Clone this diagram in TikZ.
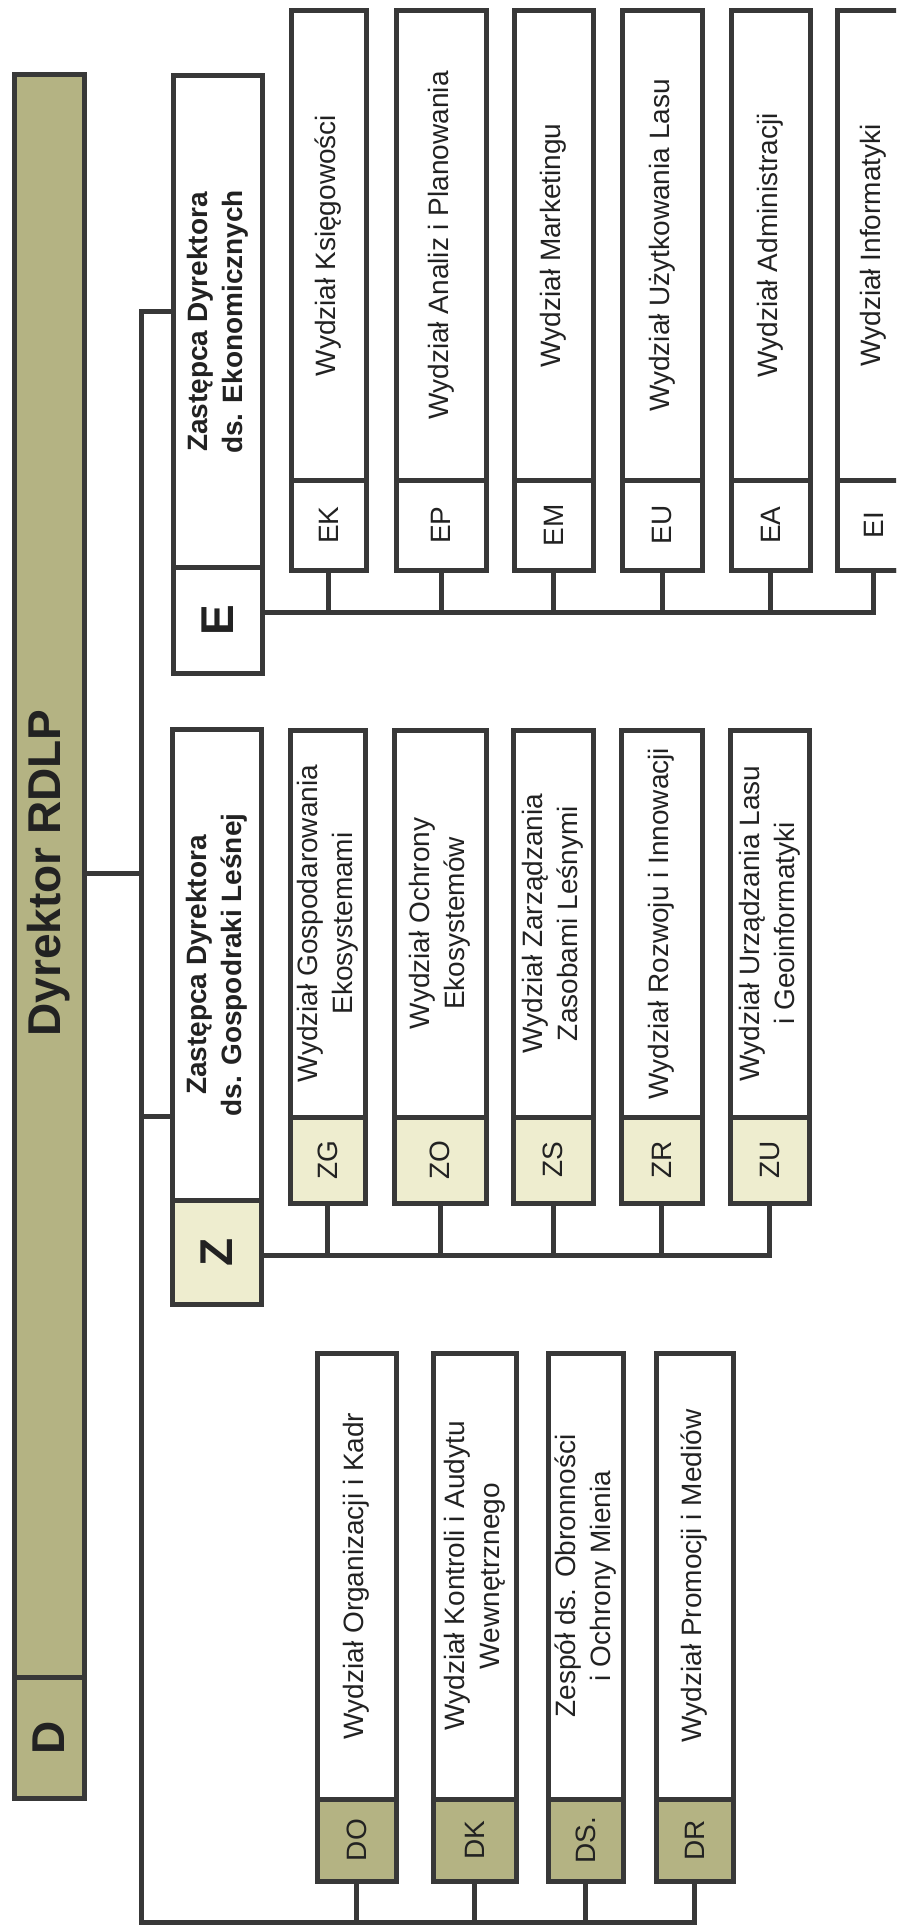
\documentclass[tikz,border=0pt]{standalone}
\usepackage{fontspec}
\setmainfont{Liberation Sans}
\usetikzlibrary{fit}
\definecolor{lc}{HTML}{383838}
\definecolor{dolive}{HTML}{B4B383}
\definecolor{pale}{HTML}{EEEDCF}
\definecolor{tc}{HTML}{222222}
% #1 name, #2 x1, #3 x2, #4 ytop, #5 ydiv, #6 ybot, #7 code fill, #8 text, #9 code
\newcommand\orgunit[9]{%
  \node[unitbox, fit={(#2,#4) (#3,#6)}] (#1) {};
  \node[codebox, fill=#7, fit={(#2,#5) (#3,#6)}] (#1c) {};
  \node[unittext] (#1t) at ({(#2+#3)/2},{(#4+#5)/2}) {#8};
  \node[codetext] (#1l) at (#1c) {#9};
}
\begin{document}
\begin{tikzpicture}[x=0.5pt,y=-0.5pt,
  conn/.style={draw=lc,line width=2.5pt},
  unitbox/.style={draw=lc,line width=2.5pt,fill=white,inner sep=0pt,rectangle},
  codebox/.style={draw=lc,line width=2.5pt,inner sep=0pt,rectangle},
  unittext/.style={rotate=90,align=center,text=tc,inner sep=0pt,font=\fontsize{14}{17.5}\selectfont},
  codetext/.style={rotate=90,text=tc,inner sep=0pt,font=\fontsize{14}{16}\selectfont},
  headtext/.style={rotate=90,align=center,text=tc,inner sep=0pt,font=\bfseries\fontsize{14}{17.5}\selectfont},
  bigcode/.style={rotate=90,text=tc,inner sep=0pt,font=\bfseries\fontsize{23}{26}\selectfont}]
\useasboundingbox (0,0) rectangle (896,1932);
\clip (0,0) rectangle (896,1932);
\fill[white] (0,0) rectangle (896,1932);

% Director bar
\node[codebox, fill=dolive, fit={(14,75) (84,1798)}] (DBAR) {};
\node[codebox, fill=dolive, fit={(14,1677) (84,1798)}] (DBARc) {};
\node[bigcode] (DBARt) at (49,873) {Dyrektor RDLP};
\node[bigcode] (DBARl) at (DBARc) {D};

% Deputy E
\node[unitbox, fit={(173,76) (262,673)}] (E) {};
\node[codebox, fill=white, fit={(173,567) (262,673)}] (Ec) {};
\node[headtext] (Et) at (217.5,322) {Zastępca Dyrektora\\ds. Ekonomicznych};
\node[bigcode] (El) at (Ec) {E};

% Deputy Z
\node[unitbox, fit={(172,729) (261,1304)}] (Z) {};
\node[codebox, fill=pale, fit={(172,1200) (261,1304)}] (Zc) {};
\node[headtext] (Zt) at (216.5,965) {Zastępca Dyrektora\\ds. Gospodraki Leśnej};
\node[bigcode] (Zl) at (Zc) {Z};

% E departments
\orgunit{EK}{291}{366}{11}{480}{570}{white}{Wydział Księgowości}{EK}
\orgunit{EP}{396}{486}{11}{480}{570}{white}{Wydział Analiz i Planowania}{EP}
\orgunit{EM}{514}{593}{11}{480}{570}{white}{Wydział Marketingu}{EM}
\orgunit{EU}{622}{702}{11}{480}{570}{white}{Wydział Użytkowania Lasu}{EU}
\orgunit{EA}{731}{810}{11}{480}{570}{white}{Wydział Administracji}{EA}
\orgunit{EI}{837}{910}{11}{480}{570}{white}{Wydział Informatyki}{EI}

% Z departments
\orgunit{ZG}{290}{365}{730}{1117}{1203}{pale}{Wydział Gospodarowania\\Ekosystemami}{ZG}
\orgunit{ZO}{394}{486}{730}{1117}{1203}{pale}{Wydział Ochrony\\Ekosystemów}{ZO}
\orgunit{ZS}{513}{593}{730}{1117}{1203}{pale}{Wydział Zarządzania\\Zasobami Leśnymi}{ZS}
\orgunit{ZR}{621}{702}{730}{1117}{1203}{pale}{Wydział Rozwoju i Innowacji}{ZR}
\orgunit{ZU}{730}{809}{730}{1117}{1203}{pale}{Wydział Urządzania Lasu\\i Geoinformatyki}{ZU}

% D departments
\orgunit{DO}{317}{396}{1353}{1799}{1881}{dolive}{Wydział Organizacji i Kadr}{DO}
\orgunit{DK}{433}{516}{1353}{1799}{1881}{dolive}{Wydział Kontroli i Audytu\\Wewnętrznego}{DK}
\orgunit{DS}{548}{623}{1353}{1799}{1881}{dolive}{Zespół ds. Obronności\\i Ochrony Mienia}{DS.}
\orgunit{DR}{656}{733}{1353}{1799}{1881}{dolive}{Wydział Promocji i Mediów}{DR}

% trunk and branches
\coordinate (trunkTop) at (141,311);
\coordinate (trunkBot) at (141,1922);
\coordinate (dj) at (141,873);
\coordinate (zj) at (141,1116);
\coordinate (eb) at (0,612);
\coordinate (zb) at (0,1255);

\draw[conn] (trunkTop -| E.west) -- (trunkTop) -- (trunkBot) -| (DR.south);
\draw[conn] (dj -| DBAR.east) -- (dj);
\draw[conn] (zj) -- (zj -| Z.west);

\draw[conn] (eb -| E.east) -| (EI.south);
\foreach \n in {EK,EP,EM,EU,EA} \draw[conn] (\n.south) -- (\n.south |- eb);

\draw[conn] (zb -| Z.east) -| (ZU.south);
\foreach \n in {ZG,ZO,ZS,ZR} \draw[conn] (\n.south) -- (\n.south |- zb);

\foreach \n in {DO,DK,DS} \draw[conn] (\n.south) -- (\n.south |- trunkBot);
\end{tikzpicture}
\end{document}
